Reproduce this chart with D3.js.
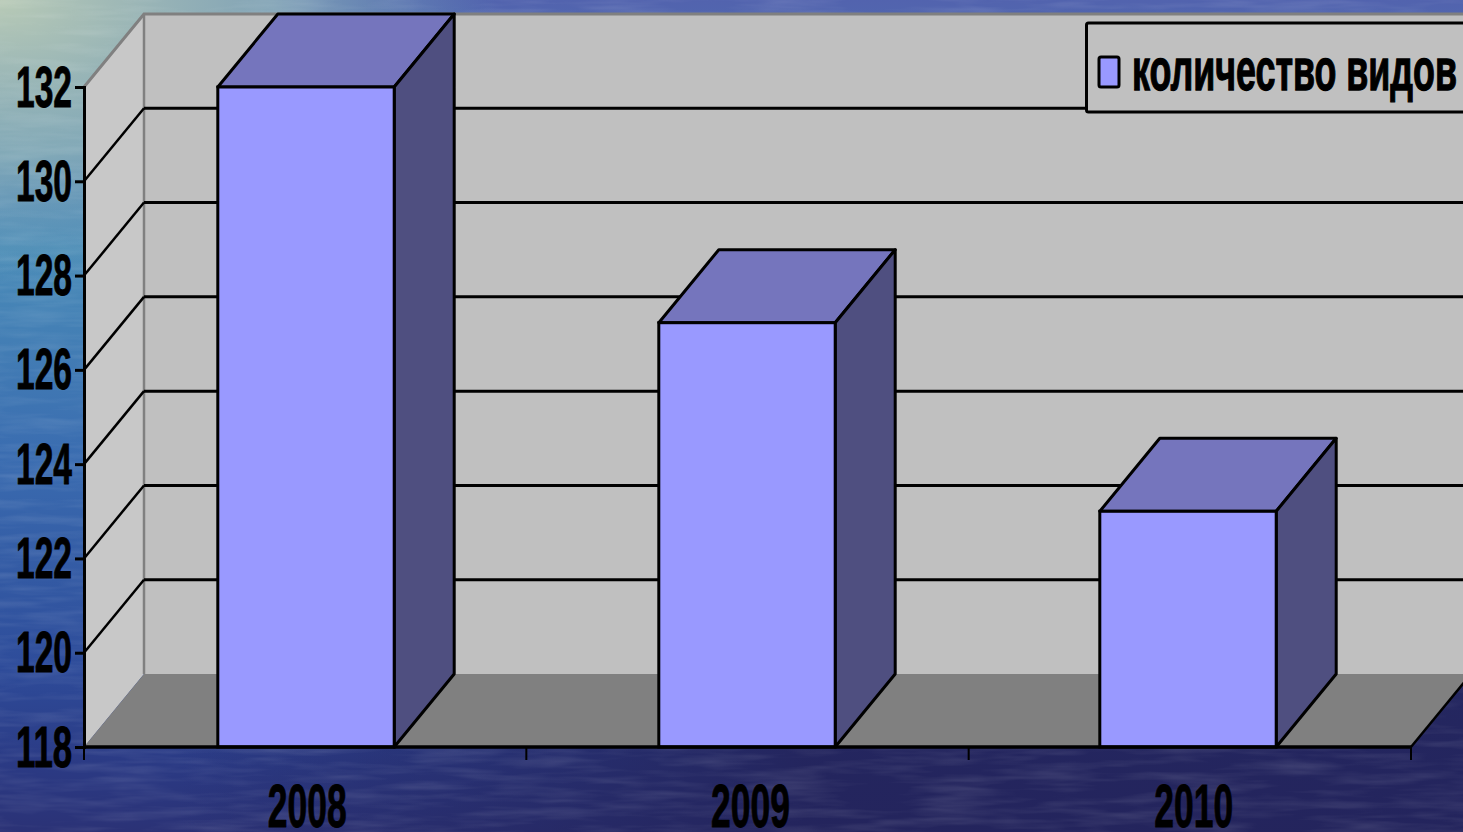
<!DOCTYPE html>
<html>
<head>
<meta charset="utf-8">
<script src="https://cdn.jsdelivr.net/npm/d3@7/dist/d3.min.js"></script>
<style>
html,body{margin:0;padding:0;overflow:hidden;background:#2a3070;}
svg{display:block;}
text{font-family:"Liberation Sans",Arial,sans-serif;font-weight:bold;fill:#000;stroke:#000;stroke-width:0.9px;}
</style>
</head>
<body>
<svg id="chart" width="1463" height="832"></svg>
<script>
// данные
var categories=["2008","2009","2010"];
var values=[132,127,123];
var yTicks=[118,120,122,124,126,128,130,132];
var seriesName="количество видов";

var W=1463,H=832;
var depthX=60,depthY=-73;   // сдвиг "глубины" 3D
var svg=d3.select("#chart");

// ось категорий и столбцы на картинке чуть расходятся, поэтому две шкалы
var x=d3.scaleBand().domain(categories).range([84,1411]).paddingInner(0.6).paddingOuter(0.3);
var xBar=d3.scaleBand().domain(categories).range([85.5,1408.5]).paddingInner(0.6).paddingOuter(0.3);
var y=d3.scaleLinear().domain([118,132]).range([747,87]);
var left=x.range()[0],right=x.range()[1];
var y0=y(118),y1=y(132);

function poly(pts){
    return "M"+pts.map(function(p){return p[0]+","+p[1];}).join("L")+"Z";
}

// фон: вода
var defs=svg.append("defs");
var g1=defs.append("linearGradient").attr("id","bgV").attr("x1",0).attr("y1",0).attr("x2",0).attr("y2",1);
[[0,"#5263ae"],[0.3,"#4a8cb8"],[0.55,"#3a6cb0"],[0.8,"#2e4c9a"],[0.92,"#2b3a84"],[1,"#2b3276"]].forEach(function(s){
    g1.append("stop").attr("offset",s[0]).attr("stop-color",s[1]);
});
var g2=defs.append("radialGradient").attr("id","bgTL").attr("cx",0).attr("cy",0).attr("r",0.34);
g2.append("stop").attr("offset",0).attr("stop-color","#b8cab6").attr("stop-opacity",1);
g2.append("stop").attr("offset",0.55).attr("stop-color","#8fb4b8").attr("stop-opacity",0.8);
g2.append("stop").attr("offset",1).attr("stop-color","#6fa2bc").attr("stop-opacity",0);
var g3=defs.append("linearGradient").attr("id","bgR").attr("x1",0).attr("y1",0).attr("x2",1).attr("y2",0);
g3.append("stop").attr("offset",0.12).attr("stop-color","#23235a").attr("stop-opacity",0);
g3.append("stop").attr("offset",0.55).attr("stop-color","#23235a").attr("stop-opacity",0.9);
var f=defs.append("filter").attr("id","waves").attr("x",0).attr("y",0).attr("width","100%").attr("height","100%");
f.append("feTurbulence").attr("type","fractalNoise").attr("baseFrequency","0.012 0.11").attr("numOctaves",3).attr("seed",4);
f.append("feColorMatrix").attr("values","0 0 0 0 1  0 0 0 0 1  0 0 0 0 1  1.8 0 0 0 -0.72");

svg.append("rect").attr("width",W).attr("height",H).attr("fill","url(#bgV)");
svg.append("rect").attr("y",H*0.7).attr("width",W).attr("height",H*0.3).attr("fill","url(#bgR)");
svg.append("rect").attr("width",W).attr("height",H).attr("fill","url(#bgTL)");
svg.append("rect").attr("width",W).attr("height",H).attr("filter","url(#waves)").attr("opacity",0.12);

// стенки и пол
svg.append("path").attr("d",poly([[left+depthX,y1+depthY],[W+20,y1+depthY],[W+20,y0+depthY],[left+depthX,y0+depthY]])).attr("fill","#c0c0c0");
svg.append("path").attr("d",poly([[left,y1],[left+depthX,y1+depthY],[left+depthX,y0+depthY],[left,y0]])).attr("fill","#c8c8c8");
svg.append("path").attr("d",poly([[left,y0],[right,y0],[right+depthX,y0+depthY],[left+depthX,y0+depthY]])).attr("fill","#808080");

// серые рёбра
svg.append("path").attr("fill","none").attr("stroke","#808080").attr("stroke-width",3)
    .attr("d","M"+left+","+y1+"L"+(left+depthX)+","+(y1+depthY)+"L"+(W+20)+","+(y1+depthY));
svg.append("line").attr("x1",left+depthX).attr("x2",left+depthX).attr("y1",y1+depthY).attr("y2",y0+depthY)
    .attr("stroke","#808080").attr("stroke-width",2.5);

// сетка
var inner=yTicks.filter(function(t){return t>118&&t<132;});
svg.append("g").selectAll("line").data(inner).enter().append("line")
    .attr("x1",left+depthX).attr("x2",W+20)
    .attr("y1",function(d){return y(d)+depthY;}).attr("y2",function(d){return y(d)+depthY;})
    .attr("stroke","#000").attr("stroke-width",3);
svg.append("g").selectAll("line").data(inner).enter().append("line")
    .attr("x1",left).attr("x2",left+depthX)
    .attr("y1",function(d){return y(d);}).attr("y2",function(d){return y(d)+depthY;})
    .attr("stroke","#000").attr("stroke-width",2.5);

// правое ребро пола
svg.append("line").attr("x1",right).attr("y1",y0).attr("x2",right+depthX).attr("y2",y0+depthY)
    .attr("stroke","#000").attr("stroke-width",2.5);

// столбцы
var bars=svg.append("g").selectAll("g").data(values).enter().append("g");
var bw=xBar.bandwidth();
function bx(i){return xBar(categories[i]);}
bars.append("path").attr("fill","#7575bd").attr("stroke","#000").attr("stroke-width",3).attr("stroke-linejoin","round")
    .attr("d",function(d,i){return poly([[bx(i),y(d)],[bx(i)+bw,y(d)],[bx(i)+bw+depthX,y(d)+depthY],[bx(i)+depthX,y(d)+depthY]]);});
bars.append("path").attr("fill","#4f4f80").attr("stroke","#000").attr("stroke-width",3).attr("stroke-linejoin","round")
    .attr("d",function(d,i){return poly([[bx(i)+bw,y(d)],[bx(i)+bw+depthX,y(d)+depthY],[bx(i)+bw+depthX,y0+depthY],[bx(i)+bw,y0]]);});
bars.append("rect").attr("fill","#9999ff").attr("stroke","#000").attr("stroke-width",3)
    .attr("x",function(d,i){return bx(i);}).attr("y",function(d){return y(d);})
    .attr("width",bw).attr("height",function(d){return y0-y(d);});

// оси
var yAxis=svg.append("g").attr("transform","translate("+left+",0)")
    .call(d3.axisLeft(y).tickValues(yTicks).tickSize(9).tickPadding(3));
yAxis.select(".domain").attr("stroke","#000").attr("stroke-width",3);
yAxis.selectAll(".tick line").attr("stroke","#000").attr("stroke-width",3);
yAxis.selectAll("text").attr("font-size",58).attr("font-family",null).attr("dy","0.33em")
    .attr("textLength",56).attr("lengthAdjust","spacingAndGlyphs");

var xAxis=svg.append("g").attr("transform","translate(0,"+y0+")")
    .call(d3.axisBottom(x).tickSize(0).tickPadding(36));
xAxis.select(".domain").attr("stroke","#000").attr("stroke-width",3.5).attr("d","M"+left+",0H"+right);
xAxis.selectAll("text").attr("font-size",62).attr("font-family",null).attr("dy","0.71em")
    .attr("dx",function(d,i){return 2+i;})
    .attr("textLength",79).attr("lengthAdjust","spacingAndGlyphs");
// засечки на границах категорий
var edges=d3.range(categories.length+1).map(function(i){return left+i*x.step();});
svg.append("g").selectAll("line").data(edges).enter().append("line")
    .attr("x1",function(d){return d;}).attr("x2",function(d){return d;})
    .attr("y1",y0).attr("y2",y0+13).attr("stroke","#000").attr("stroke-width",2);

// легенда
var legend=svg.append("g");
legend.append("rect").attr("x",1086.5).attr("y",23).attr("width",420).attr("height",89).attr("rx",2)
    .attr("fill","#c0c0c0").attr("stroke","#000").attr("stroke-width",3);
legend.append("rect").attr("x",1099).attr("y",57).attr("width",20).attr("height",30).attr("rx",2)
    .attr("fill","#9999ff").attr("stroke","#000").attr("stroke-width",3);
legend.append("text").attr("x",1132).attr("y",90).attr("font-size",59).style("stroke-width","1.3px")
    .attr("textLength",325).attr("lengthAdjust","spacingAndGlyphs").text(seriesName);
</script>
</body>
</html>
